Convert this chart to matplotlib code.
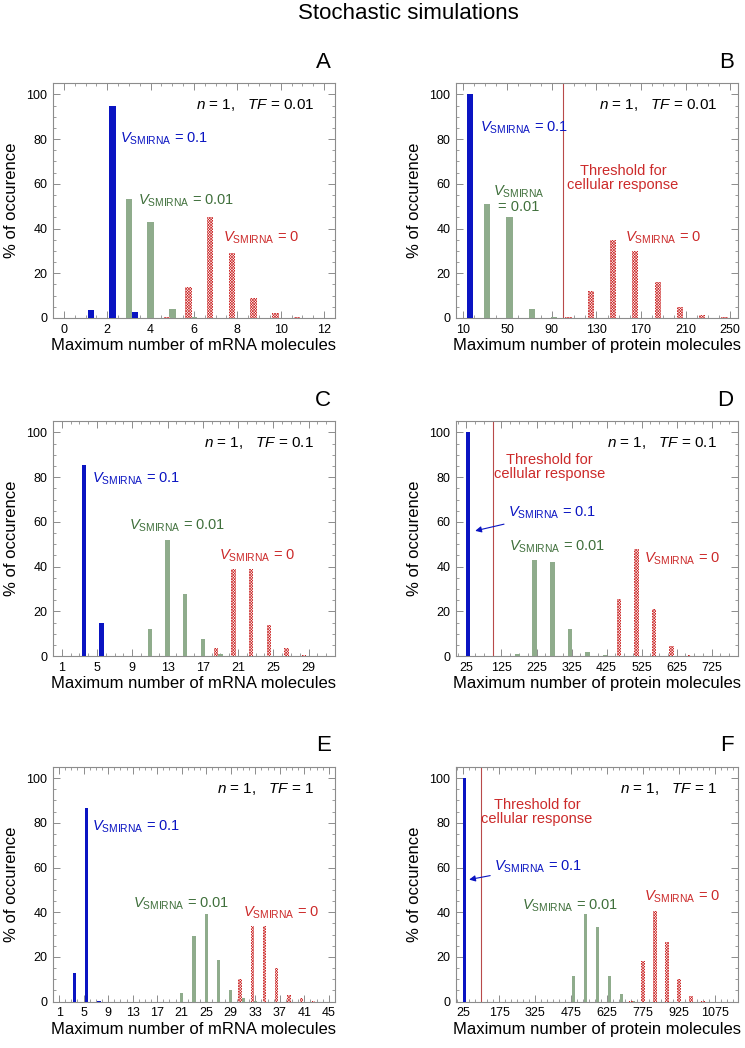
import numpy as np
import matplotlib
matplotlib.use('Agg')
import matplotlib.pyplot as plt
from matplotlib.ticker import MultipleLocator

plt.rcParams['font.family'] = ['Liberation Sans', 'DejaVu Sans']
plt.rcParams['mathtext.fontset'] = 'custom'
plt.rcParams['mathtext.rm'] = 'Liberation Sans'
plt.rcParams['mathtext.it'] = 'Liberation Sans:italic'
plt.rcParams['hatch.linewidth'] = 0.45

BLUE = '#0a14c2'
GREEN_BAR = '#8fac8c'
GREEN_TXT = '#40703c'
RED = '#cc2a2a'
THRESH = '#b84a4a'
FRAME = '#8c8c8c'

# ---- data ----
# A: mRNA, TF = 0.01
a_blue_x = [1.25, 2.25, 3.25]
a_blue_y = [3.5, 95, 2.5]
a_green_x = [3, 4, 5, 6]
a_green_y = [53, 43, 4, 0.5]
a_red_x = [4.75, 5.75, 6.75, 7.75, 8.75, 9.75, 10.75]
a_red_y = [0.3, 14, 45, 29, 9, 2, 0.3]

# B: protein, TF = 0.01
b_blue_x = [17]
b_blue_y = [100]
b_green_x = [32, 52, 72, 92]
b_green_y = [51, 45, 4, 0.3]
b_red_x = [105, 125, 145, 165, 185, 205, 225, 245]
b_red_y = [0.3, 12, 35, 30, 16, 5, 1.5, 0.5]

# C: mRNA, TF = 0.1
c_blue_x = [3.5, 5.5]
c_blue_y = [85.4, 14.6]
c_green_x = [11, 13, 15, 17, 19]
c_green_y = [12.1, 51.7, 27.6, 7.5, 0.9]
c_red_x = [18.5, 20.5, 22.5, 24.5, 26.5, 28.5]
c_red_y = [3.7, 38.9, 38.9, 13.9, 3.4, 0.5]

# D: protein, TF = 0.1
d_blue_x = [30]
d_blue_y = [100]
d_green_x = [170, 220, 270, 320, 370, 420]
d_green_y = [0.7, 42.9, 42.2, 12.1, 1.9, 0.3]
d_red_x = [460, 510, 560, 610, 660]
d_red_y = [25.3, 48.1, 21.2, 4.5, 0.4]

# E: mRNA, TF = 1
e_blue_x = [3.5, 5.5, 7.5]
e_blue_y = [12.8, 86.5, 0.5]
e_green_x = [21, 23, 25, 27, 29, 31, 33]
e_green_y = [4.1, 29.3, 39.1, 18.6, 5.1, 1.7, 0.5]
e_red_x = [30.5, 32.5, 34.5, 36.5, 38.5, 40.5, 42.5]
e_red_y = [10.1, 33.8, 33.8, 15, 3, 1.5, 0.3]

# F: protein, TF = 1
f_blue_x = [30]
f_blue_y = [100]
f_green_x = [485, 535, 585, 635, 685, 735]
f_green_y = [11.6, 39, 33.3, 11.6, 3.3, 0.5]
f_red_x = [725, 775, 825, 875, 925, 975, 1025]
f_red_y = [0.5, 18.4, 40.7, 26.7, 10.1, 2.7, 0.5]

def vlab(v):
    return r'$V_{\mathrm{SMIRNA}}$ = ' + v

fig = plt.figure(figsize=(7.45, 10.48), dpi=100)
fig.text(0.548, 0.987, 'Stochastic simulations', ha='center', va='center', fontsize=16)

lefts = [0.0711, 0.612]
bottoms = [0.6966, 0.374, 0.0442]
W, H = 0.3785, 0.224


def panel(ax, bx, by, gx, gy, rx, ry, width, xlim, xticks, xminor,
          xlabel, letter, tf, thresh=None):
    ax.bar(bx, by, width=width, color=BLUE, linewidth=0, zorder=3)
    ax.bar(gx, gy, width=width, color=GREEN_BAR, linewidth=0, zorder=3)
    ax.bar(rx, ry, width=width, facecolor='white', edgecolor=RED,
           hatch='x' * 12, linewidth=0, zorder=3)
    if thresh is not None:
        ax.axvline(thresh, color=THRESH, lw=0.8, zorder=2)
    ax.set_xlim(*xlim)
    ax.set_ylim(0, 105)
    ax.set_xticks(xticks)
    ax.xaxis.set_minor_locator(MultipleLocator(xminor))
    ax.set_yticks([0, 20, 40, 60, 80, 100])
    ax.yaxis.set_minor_locator(MultipleLocator(5))
    ax.tick_params(which='both', direction='in', top=True, right=True,
                   color=FRAME, labelsize=9, pad=4)
    ax.tick_params(which='major', length=5, width=0.7)
    ax.tick_params(which='minor', length=2.5, width=0.6)
    for s in ax.spines.values():
        s.set_color(FRAME)
        s.set_linewidth(0.8)
    ax.set_xlabel(xlabel, fontsize=12, labelpad=2)
    ax.set_ylabel('% of occurence', fontsize=12, labelpad=5)
    ax.text(0.985, 1.045, letter, transform=ax.transAxes, ha='right',
            va='bottom', fontsize=16)
    ax.text(0.925, 0.906, r'$n$ = 1,   $TF$ = ' + tf, transform=ax.transAxes,
            ha='right', va='center', fontsize=11)


mrna = 'Maximum number of mRNA molecules'
prot = 'Maximum number of protein molecules'

axA = fig.add_axes([lefts[0], bottoms[0], W, H])
panel(axA, a_blue_x, a_blue_y, a_green_x, a_green_y, a_red_x, a_red_y, 0.3,
      (-0.5, 12.5), np.arange(0, 13, 2), 0.5, mrna, 'A', '0.01')
axA.text(2.6, 80, vlab('0.1'), color=BLUE, fontsize=10.5, va='center')
axA.text(3.4, 52.4, vlab('0.01'), color=GREEN_TXT, fontsize=10.5, va='center')
axA.text(7.36, 35.8, vlab('0'), color=RED, fontsize=10.5, va='center')

axB = fig.add_axes([lefts[1], bottoms[0], W, H])
panel(axB, b_blue_x, b_blue_y, b_green_x, b_green_y, b_red_x, b_red_y, 5.5,
      (4, 257), np.arange(10, 251, 40), 10, prot, 'B', '0.01', thresh=100)
axB.text(25.9, 85, vlab('0.1'), color=BLUE, fontsize=10.5, va='center')
axB.text(60, 56.4, r'$V_{\mathrm{SMIRNA}}$', color=GREEN_TXT, fontsize=10.5,
         ha='center', va='center')
axB.text(60, 49.7, '= 0.01', color=GREEN_TXT, fontsize=10.5, ha='center', va='center')
axB.text(154, 62.5, 'Threshold for\ncellular response', color=RED, fontsize=10.5,
         ha='center', va='center', linespacing=1.0)
axB.text(156, 36, vlab('0'), color=RED, fontsize=10.5, va='center')

axC = fig.add_axes([lefts[0], bottoms[1], W, H])
panel(axC, c_blue_x, c_blue_y, c_green_x, c_green_y, c_red_x, c_red_y, 0.5,
      (0, 32), np.arange(1, 30, 4), 1, mrna, 'C', '0.1')
axC.text(4.4, 79.4, vlab('0.1'), color=BLUE, fontsize=10.5, va='center')
axC.text(8.67, 58.1, vlab('0.01'), color=GREEN_TXT, fontsize=10.5, va='center')
axC.text(18.8, 44.8, vlab('0'), color=RED, fontsize=10.5, va='center')

axD = fig.add_axes([lefts[1], bottoms[1], W, H])
panel(axD, d_blue_x, d_blue_y, d_green_x, d_green_y, d_red_x, d_red_y, 13,
      (-5, 800), np.arange(25, 726, 100), 25, prot, 'D', '0.1', thresh=100)
axD.text(262, 84.5, 'Threshold for\ncellular response', color=RED, fontsize=10.5,
         ha='center', va='center', linespacing=1.0)
axD.annotate(vlab('0.1'), xy=(50, 56), xytext=(144, 64), color=BLUE,
             fontsize=10.5, va='center',
             arrowprops=dict(arrowstyle='-|>', color=BLUE, lw=0.8,
                             mutation_scale=9, shrinkA=1, shrinkB=0))
axD.text(147, 48.9, vlab('0.01'), color=GREEN_TXT, fontsize=10.5, va='center')
axD.text(532, 43.7, vlab('0'), color=RED, fontsize=10.5, va='center')

axE = fig.add_axes([lefts[0], bottoms[2], W, H])
panel(axE, e_blue_x, e_blue_y, e_green_x, e_green_y, e_red_x, e_red_y, 0.55,
      (0, 46), np.arange(1, 46, 4), 1, mrna, 'E', '1')
axE.text(6.33, 78.4, vlab('0.1'), color=BLUE, fontsize=10.5, va='center')
axE.text(13.1, 43.9, vlab('0.01'), color=GREEN_TXT, fontsize=10.5, va='center')
axE.text(31, 39.7, vlab('0'), color=RED, fontsize=10.5, va='center')

axF = fig.add_axes([lefts[1], bottoms[2], W, H])
panel(axF, f_blue_x, f_blue_y, f_green_x, f_green_y, f_red_x, f_red_y, 14,
      (-5, 1170), np.arange(25, 1076, 150), 25, prot, 'F', '1', thresh=100)
axF.text(332, 85, 'Threshold for\ncellular response', color=RED, fontsize=10.5,
         ha='center', va='center', linespacing=1.0)
axF.annotate(vlab('0.1'), xy=(50, 54.6), xytext=(155, 60.5), color=BLUE,
             fontsize=10.5, va='center',
             arrowprops=dict(arrowstyle='-|>', color=BLUE, lw=0.8,
                             mutation_scale=9, shrinkA=1, shrinkB=0))
axF.text(271, 43, vlab('0.01'), color=GREEN_TXT, fontsize=10.5, va='center')
axF.text(780, 46.9, vlab('0'), color=RED, fontsize=10.5, va='center')

fig.savefig('out.png', dpi=100)
